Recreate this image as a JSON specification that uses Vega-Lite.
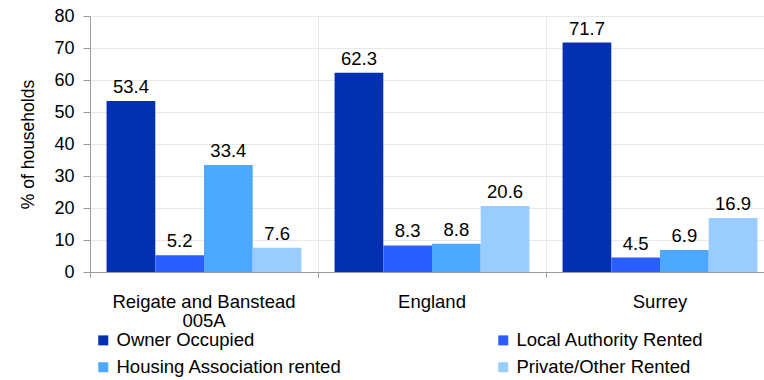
{
  "$schema": "https://vega.github.io/schema/vega-lite/v6.json",
  "width": 684,
  "height": 256,
  "autosize": {"type": "none"},
  "padding": {"left": 90, "top": 16, "right": 0, "bottom": 108},
  "background": "white",
  "config": {
    "font": "Liberation Sans",
    "view": {"stroke": null}
  },
  "data": {
    "values": [
      {"area": "Reigate and Banstead 005A", "tenure": "Owner Occupied", "pct": 53.4},
      {"area": "Reigate and Banstead 005A", "tenure": "Local Authority Rented", "pct": 5.2},
      {"area": "Reigate and Banstead 005A", "tenure": "Housing Association rented", "pct": 33.4},
      {"area": "Reigate and Banstead 005A", "tenure": "Private/Other Rented", "pct": 7.6},
      {"area": "England", "tenure": "Owner Occupied", "pct": 62.3},
      {"area": "England", "tenure": "Local Authority Rented", "pct": 8.3},
      {"area": "England", "tenure": "Housing Association rented", "pct": 8.8},
      {"area": "England", "tenure": "Private/Other Rented", "pct": 20.6},
      {"area": "Surrey", "tenure": "Owner Occupied", "pct": 71.7},
      {"area": "Surrey", "tenure": "Local Authority Rented", "pct": 4.5},
      {"area": "Surrey", "tenure": "Housing Association rented", "pct": 6.9},
      {"area": "Surrey", "tenure": "Private/Other Rented", "pct": 16.9}
    ]
  },
  "encoding": {
    "x": {
      "field": "area",
      "type": "nominal",
      "sort": ["Reigate and Banstead 005A", "England", "Surrey"],
      "scale": {"paddingInner": 0, "paddingOuter": 0},
      "axis": {
        "title": null,
        "bandPosition": 0,
        "grid": true,
        "gridColor": "#e8e8e8",
        "ticks": true,
        "tickSize": 5,
        "tickColor": "#9a9a9a",
        "domainColor": "#9a9a9a",
        "labelAngle": 0,
        "labelFontSize": 18.5,
        "labelColor": "black",
        "labelPadding": 15,
        "labelBaseline": "top",
        "labelLineHeight": 19,
        "labelLimit": 400,
        "labelOverlap": false,
        "labelBound": false,
        "labelFlush": false,
        "labelExpr": "datum.label == 'Reigate and Banstead 005A' ? ['Reigate and Banstead', '005A'] : datum.label"
      }
    },
    "xOffset": {
      "field": "tenure",
      "type": "nominal",
      "sort": ["Owner Occupied", "Local Authority Rented", "Housing Association rented", "Private/Other Rented"],
      "scale": {"paddingInner": 0, "paddingOuter": 0.34}
    },
    "y": {
      "field": "pct",
      "type": "quantitative",
      "scale": {"domain": [0, 80]},
      "axis": {
        "title": "% of households",
        "titleFontSize": 17.5,
        "titleFontWeight": "normal",
        "titleColor": "black",
        "titlePadding": 16,
        "labelFontSize": 18,
        "labelColor": "black",
        "labelPadding": 9,
        "labelOverlap": false,
        "values": [0, 10, 20, 30, 40, 50, 60, 70, 80],
        "tickSize": 7,
        "tickColor": "#9a9a9a",
        "domainColor": "#9a9a9a",
        "gridColor": "#e8e8e8"
      }
    }
  },
  "layer": [
    {
      "mark": {"type": "bar"},
      "encoding": {
        "color": {
          "field": "tenure",
          "type": "nominal",
          "sort": ["Owner Occupied", "Local Authority Rented", "Housing Association rented", "Private/Other Rented"],
          "scale": {
            "domain": ["Owner Occupied", "Local Authority Rented", "Housing Association rented", "Private/Other Rented"],
            "range": ["#0330B1", "#2B5EFF", "#4DA8FF", "#99CCFF"]
          },
          "legend": {
            "title": null,
            "orient": "none",
            "direction": "horizontal",
            "legendX": 4,
            "legendY": 315,
            "columns": 2,
            "columnPadding": 152,
            "rowPadding": 8,
            "symbolType": "square",
            "symbolSize": 100,
            "symbolStrokeWidth": 0,
            "labelFontSize": 18.5,
            "labelColor": "black",
            "labelOffset": 4,
            "labelLimit": 400
          }
        }
      }
    },
    {
      "mark": {"type": "text", "fontSize": 18.5, "baseline": "alphabetic", "dy": -8, "color": "black"},
      "encoding": {
        "text": {"field": "pct", "type": "quantitative", "format": ".1f"}
      }
    }
  ]
}
